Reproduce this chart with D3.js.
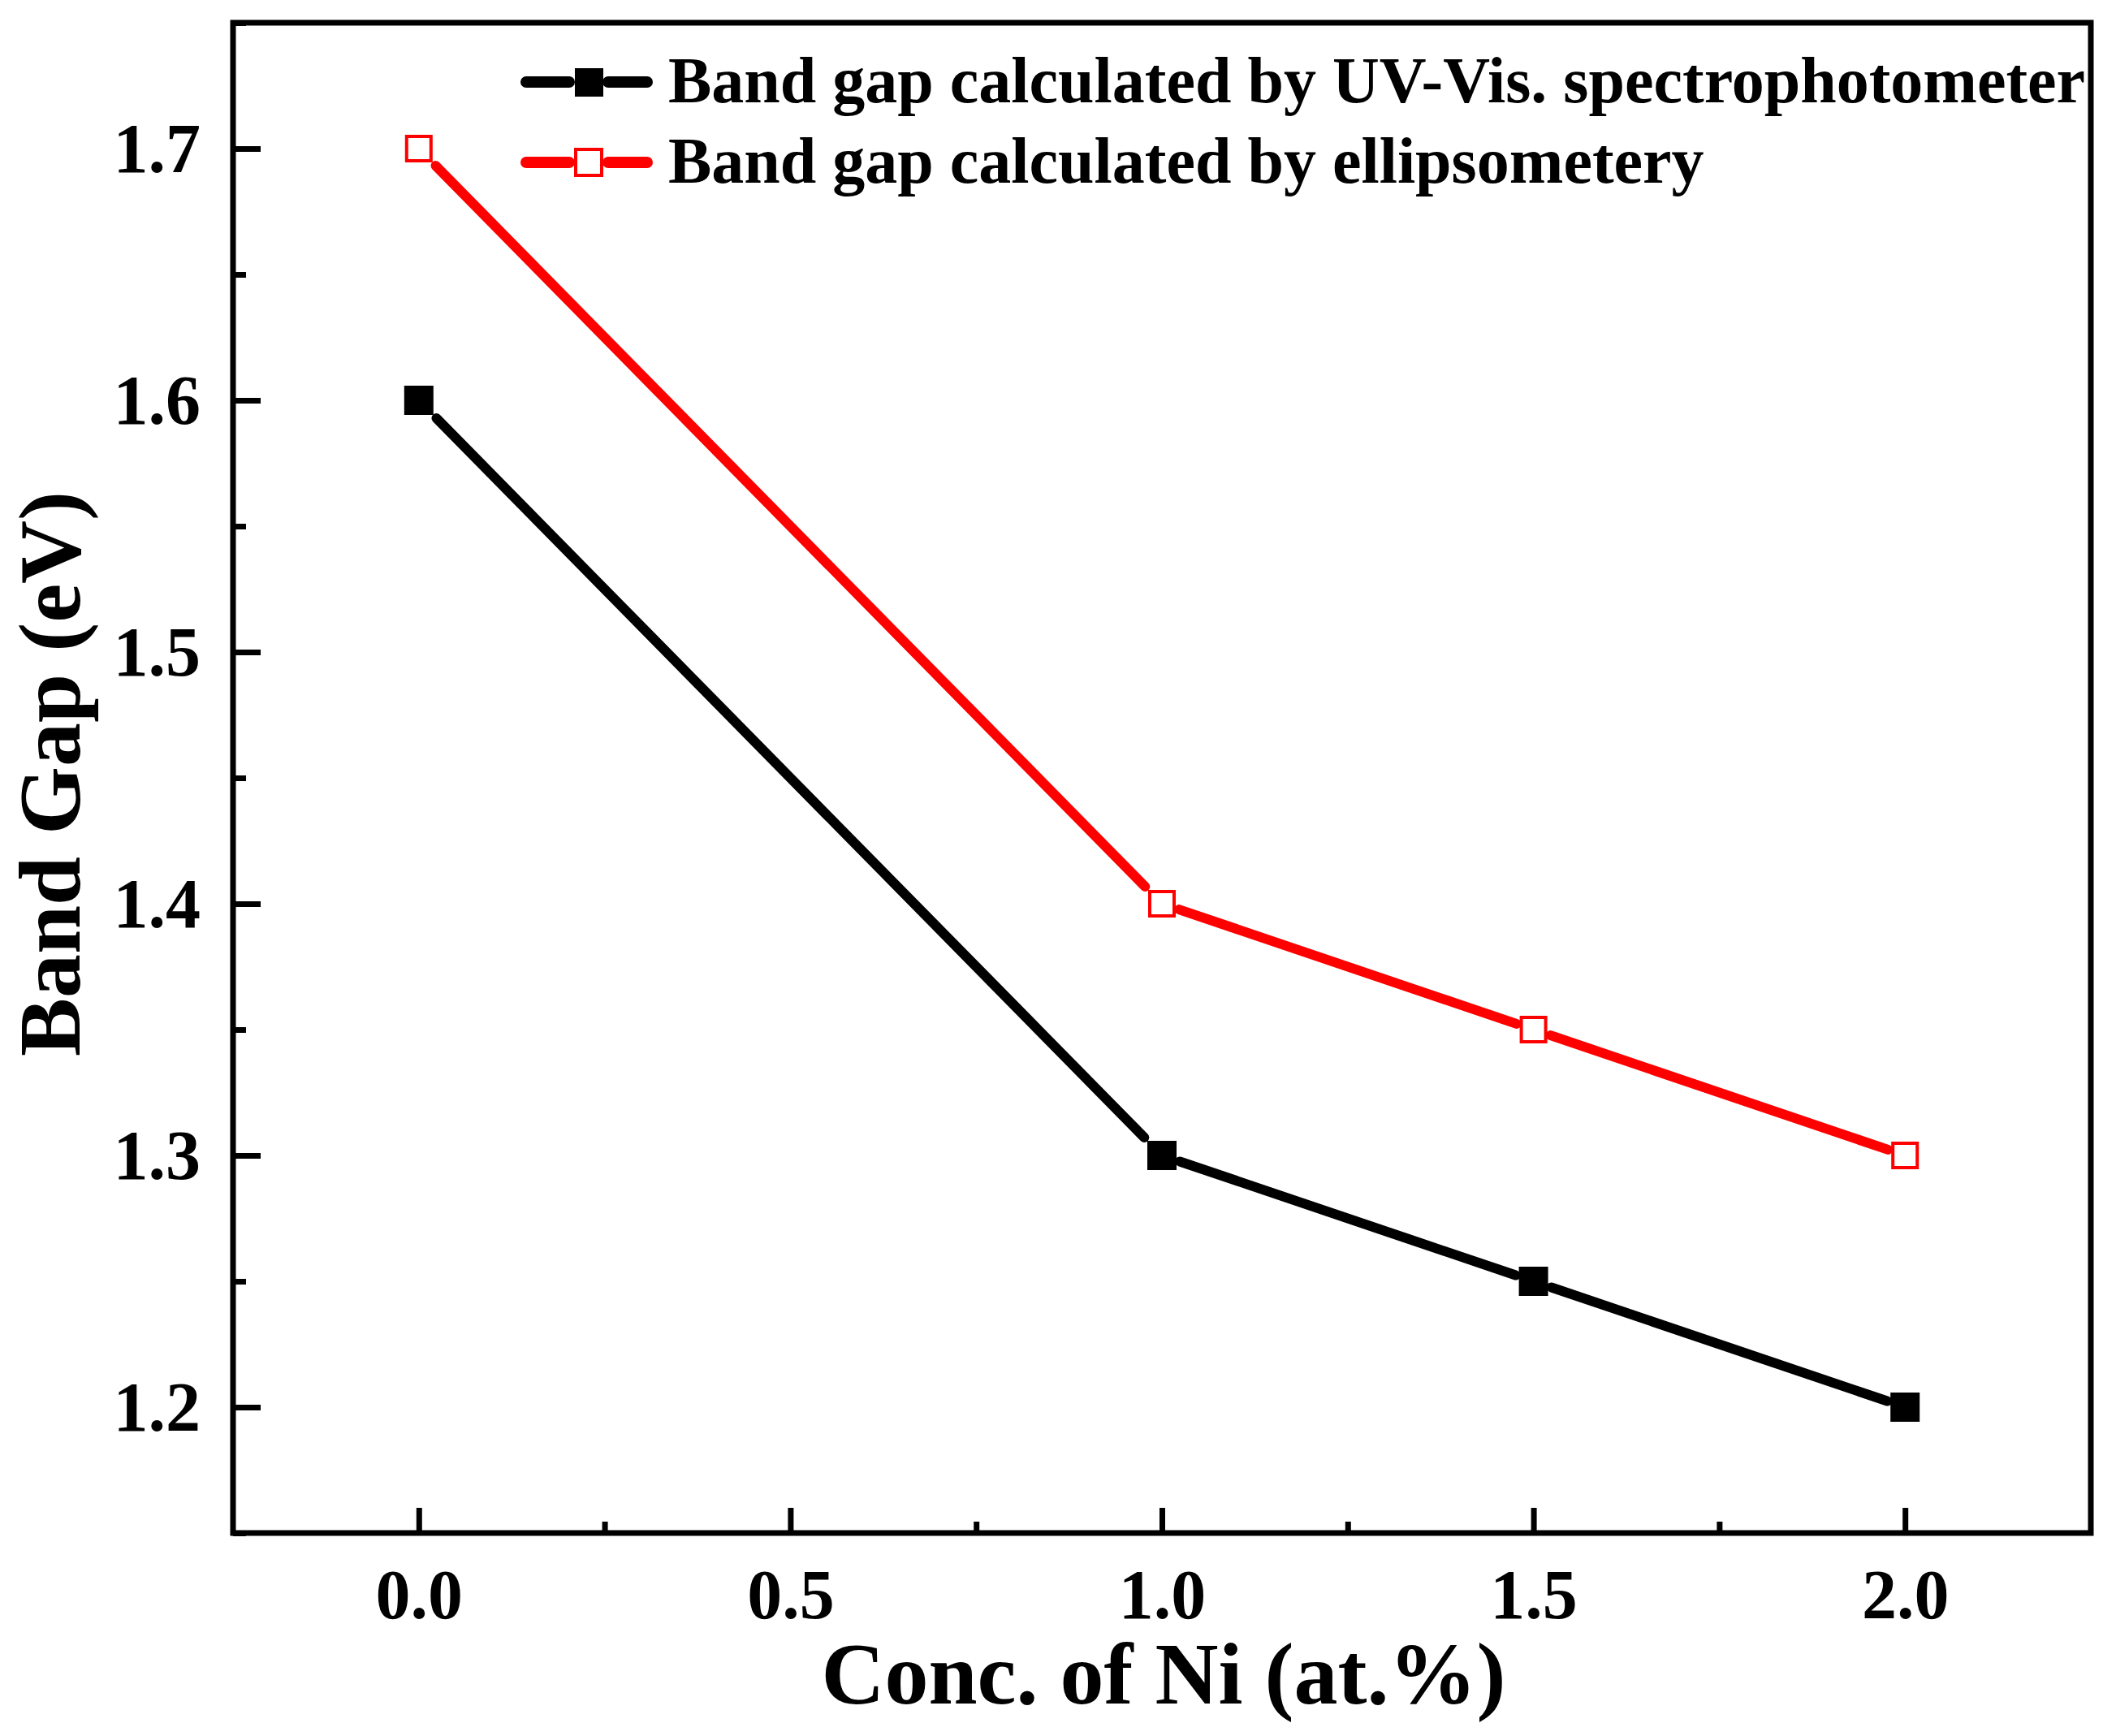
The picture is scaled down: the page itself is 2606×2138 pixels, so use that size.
<!DOCTYPE html>
<html>
<head>
<meta charset="utf-8">
<script src="https://cdn.jsdelivr.net/npm/d3@7"></script>
<style>
  body { margin: 0; background: #fff; }
  svg text { font-family: "Times New Roman", "Liberation Serif", serif; font-weight: bold; }
</style>
</head>
<body>
<svg></svg>
<script>
// data
const conc = [0.0, 1.0, 1.5, 2.0];
const gapUV = [1.6, 1.3, 1.25, 1.2];
const gapEllip = [1.7, 1.4, 1.35, 1.3];
const seriesNames = ["Band gap calculated by UV-Vis. spectrophotometer", "Band gap calculated by ellipsometery"];
const xTicks = [0.0, 0.5, 1.0, 1.5, 2.0];
const xMinor = [0.25, 0.75, 1.25, 1.75];
const yTicks = [1.2, 1.3, 1.4, 1.5, 1.6, 1.7];
const yMinor = [1.15, 1.25, 1.35, 1.45, 1.55, 1.65, 1.75];

var w = 2606;
var h = 2138;
const margin = { top: 28, bottom: 250, left: 287, right: 31 };
const innerWidth = w - margin.left - margin.right;
const innerHeight = h - margin.top - margin.bottom;

let svg = d3.select("svg")
  .attr("width", w)
  .attr("height", h);
const g = svg.append("g")
  .attr("transform", `translate(${margin.left}, ${margin.top})`);

let xScale = d3.scaleLinear()
  .domain([-0.25, 2.25])
  .range([0, innerWidth]);
let yScale = d3.scaleLinear()
  .domain([1.15, 1.75])
  .range([innerHeight, 0]);

// ticks point inward
const yAxis = g.append("g")
  .call(d3.axisLeft(yScale).tickValues(yTicks).tickFormat(d3.format(".1f"))
    .tickSizeInner(-34).tickSizeOuter(0).tickPadding(40));
const yMinorAxis = g.append("g")
  .call(d3.axisLeft(yScale).tickValues(yMinor).tickFormat("")
    .tickSizeInner(-16).tickSizeOuter(0));

const xAxis = g.append("g")
  .attr("transform", `translate(0,${innerHeight})`)
  .call(d3.axisBottom(xScale).tickValues(xTicks).tickFormat(d3.format(".1f"))
    .tickSizeInner(-31).tickSizeOuter(0).tickPadding(0));
const xMinorAxis = g.append("g")
  .attr("transform", `translate(0,${innerHeight})`)
  .call(d3.axisBottom(xScale).tickValues(xMinor).tickFormat("")
    .tickSizeInner(-14).tickSizeOuter(0));

// minor ticks carry no labels
yMinorAxis.selectAll("text").remove();
xMinorAxis.selectAll("text").remove();

g.selectAll(".domain").remove();
g.selectAll(".tick line").attr("stroke", "#000").attr("stroke-width", 7);

yAxis.selectAll("text")
  .attr("font-size", 86)
  .attr("dy", 28)
  .attr("fill", "#000");
xAxis.selectAll("text")
  .attr("font-size", 86)
  .attr("y", 105)
  .attr("dy", 0)
  .attr("fill", "#000");

// frame
g.append("rect")
  .attr("width", innerWidth)
  .attr("height", innerHeight)
  .attr("fill", "none")
  .attr("stroke", "#000")
  .attr("stroke-width", 7);

// lines stop at the symbol edge (gap to symbol)
function drawSeries(yVals, color, half) {
  const pts = conc.map((c, i) => [xScale(c), yScale(yVals[i])]);
  for (let i = 0; i < pts.length - 1; i++) {
    const [x0, y0] = pts[i];
    const [x1, y1] = pts[i + 1];
    const dx = x1 - x0, dy = y1 - y0;
    const t = Math.min(half / Math.abs(dx), half / Math.abs(dy));
    g.append("line")
      .attr("x1", x0 + dx * t).attr("y1", y0 + dy * t)
      .attr("x2", x1 - dx * t).attr("y2", y1 - dy * t)
      .attr("stroke", color)
      .attr("stroke-width", 12)
      .attr("stroke-linecap", "round");
  }
}
drawSeries(gapUV, "#000", 22);
drawSeries(gapEllip, "#ff0000", 21);

g.selectAll(".uv")
  .data(conc)
  .enter()
  .append("rect")
  .attr("class", "uv")
  .attr("x", d => xScale(d) - 18)
  .attr("y", (d, i) => yScale(gapUV[i]) - 18)
  .attr("width", 36)
  .attr("height", 36)
  .attr("fill", "#000");

g.selectAll(".el")
  .data(conc)
  .enter()
  .append("rect")
  .attr("class", "el")
  .attr("x", d => xScale(d) - 15)
  .attr("y", (d, i) => yScale(gapEllip[i]) - 15)
  .attr("width", 30)
  .attr("height", 30)
  .attr("fill", "#fff")
  .attr("stroke", "#ff0000")
  .attr("stroke-width", 4);

// legend
const legend = svg.append("g").attr("transform", "translate(641,0)");
const legendRows = [
  { name: seriesNames[0], color: "#000", open: false, y: 101 },
  { name: seriesNames[1], color: "#ff0000", open: true, y: 200 }
];
legendRows.forEach(function(r) {
  const row = legend.append("g").attr("transform", `translate(0,${r.y})`);
  row.append("line").attr("x1", 7).attr("x2", 60).attr("y1", 0).attr("y2", 0)
    .attr("stroke", r.color).attr("stroke-width", 14).attr("stroke-linecap", "round");
  row.append("line").attr("x1", 108).attr("x2", 156).attr("y1", 0).attr("y2", 0)
    .attr("stroke", r.color).attr("stroke-width", 14).attr("stroke-linecap", "round");
  if (r.open) {
    row.append("rect").attr("x", 68).attr("y", -16).attr("width", 32).attr("height", 32)
      .attr("fill", "#fff").attr("stroke", r.color).attr("stroke-width", 4);
  } else {
    row.append("rect").attr("x", 67).attr("y", -17).attr("width", 35).attr("height", 35)
      .attr("fill", r.color);
  }
  row.append("text")
    .attr("x", 182)
    .attr("y", 25)
    .attr("font-size", 80)
    .attr("fill", "#000")
    .text(r.name);
});

// axis titles
svg.append("text")
  .attr("x", margin.left + innerWidth / 2 + 2)
  .attr("y", 2098)
  .attr("text-anchor", "middle")
  .attr("font-size", 108)
  .text("Conc. of Ni (at.%)");

svg.append("text")
  .attr("transform", "translate(98,953)rotate(-90)")
  .attr("text-anchor", "middle")
  .attr("font-size", 108)
  .text("Band Gap (eV)");
</script>
</body>
</html>
